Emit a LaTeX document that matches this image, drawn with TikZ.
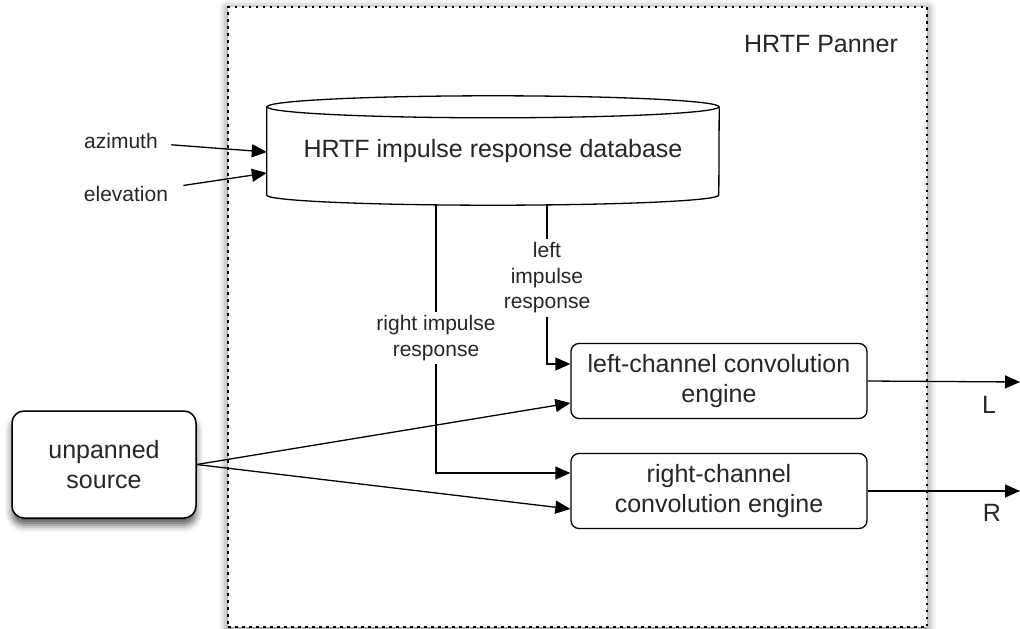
\documentclass[tikz,border=0pt]{standalone}
\usepackage{fontspec}
\setmainfont{Liberation Sans}
\usetikzlibrary{arrows.meta,shadows.blur,calc}

\tikzset{
  bigtxt/.style={font=\fontsize{25}{30}\selectfont, text=black!85},
  smalltxt/.style={font=\fontsize{21}{25.5}\selectfont, text=black!85},
  engine/.style={draw, line width=1.3pt, rounded corners=8pt, minimum width=296pt,
    minimum height=75pt, align=center, fill=white, bigtxt},
  srcbox/.style={draw, line width=1.5pt, rounded corners=12pt, minimum width=184pt,
    minimum height=107pt, align=center, fill=white, bigtxt,
    blur shadow={shadow xshift=0pt, shadow yshift=-7pt, shadow blur radius=7pt, shadow opacity=65}},
  panel/.style={draw, line width=1.3pt, dash pattern=on 2.5pt off 4.5pt, fill=white,
    minimum width=699pt, minimum height=620pt,
    blur shadow={shadow xshift=0pt, shadow yshift=-2pt, shadow blur radius=9pt, shadow opacity=60}},
  wire/.style={line width=1.3pt},
  flow/.style={wire, -{Triangle[length=15pt,width=13pt]}},
}

\begin{document}
\begin{tikzpicture}[x=1pt,y=1pt,yscale=-1]
\useasboundingbox (0,0) rectangle (1020,629);

%Shape: dotted frame of the panner
\node[panel] (panner) at (577.5,317) {};
% Text Node
\node[bigtxt] (title) at (821,44) {HRTF Panner};

%Shape: Can (database)
\node[bigtxt, minimum width=452pt, minimum height=88pt, inner sep=0pt] (db) at (493,151) {HRTF impulse response database};
\draw[wire] (db.north) ellipse [x radius=226, y radius=11];
\draw[wire] (db.north west) -- (db.south west) arc [start angle=180, end angle=0, x radius=226, y radius=10] -- (db.north east);

% Text Node
\node[smalltxt] (azi) at (121,141) {azimuth};
% Text Node
\node[smalltxt] (ele) at (126,194) {elevation};
\draw[flow, shorten <=10pt] (azi) -- ($(db.west)+(0,1)$);
\draw[flow, shorten <=12pt] (ele) -- ($(db.west)+(0,22)$);

%Shape: Rounded Rect (engines)
\node[engine] (leng) at (719,381) {left-channel convolution\\engine};
\node[engine] (reng) at (719,491) {right-channel\\convolution engine};

%Shape: Rounded Rect (source)
\node[srcbox] (src) at (104,464.5) {unpanned\\source};

% impulse responses
\coordinate (rtap) at (436,205);
\coordinate (ltap) at (547,204);
\node[smalltxt, align=center] (rlbl) at (436,338) {right impulse\\response};
\node[smalltxt, align=center] (llbl) at (547,278) {left\\impulse\\response};
\draw[wire] (rtap) -- (rlbl);
\draw[flow] (rlbl) |- ($(reng.west)+(0,-18)$);
\draw[wire] (ltap) -- (llbl);
\draw[flow] (llbl) |- ($(leng.west)+(0,-17)$);

% source into both engines
\draw[flow] (src.east) -- ($(leng.west)+(0,22)$);
\draw[flow] (src.east) -- ($(reng.west)+(0,18)$);

% outputs
\coordinate (lout) at (1020,382);
\coordinate (rout) at (1020,491);
\draw[flow] (leng.east) -- (lout);
\node[bigtxt] (llab) at (989,405) {L};
\draw[flow] (reng.east) -- (rout);
\node[bigtxt] (rlab) at (992,513) {R};

\end{tikzpicture}
\end{document}
